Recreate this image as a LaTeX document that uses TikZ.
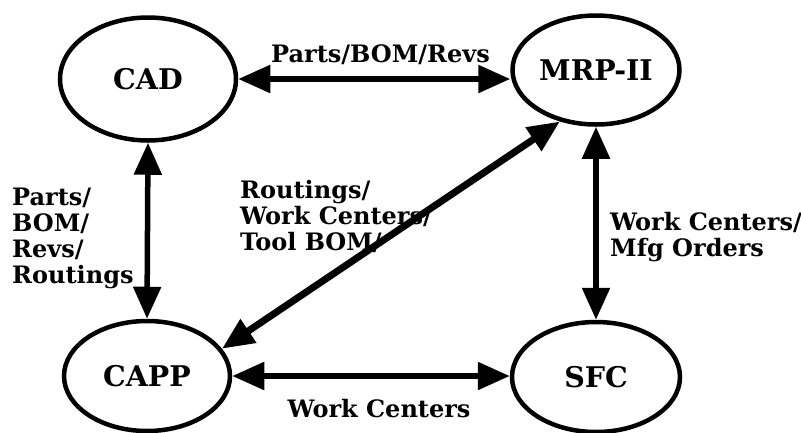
\documentclass[tikz,border=0pt]{standalone}
\usepackage{fontspec}
\setmainfont{DejaVu Serif}
\usetikzlibrary{arrows.meta,shapes.geometric}
\tikzset{
  bigtip/.tip={Triangle[length=32pt,width=27pt]},
  sysnode/.style={ellipse, draw, line width=4.5pt, inner sep=0pt,
    font=\fontsize{28.5}{30}\selectfont\bfseries},
  flow/.style={line width=5.5pt, {bigtip}-{bigtip}},
  flowlabel/.style={font=\fontsize{24}{25.8}\selectfont\bfseries, align=left, inner sep=0pt}
}
\begin{document}
\begin{tikzpicture}[x=1pt,y=-1pt]
\useasboundingbox (0,0) rectangle (801,432);
% the four systems
\node[sysnode, minimum width=176pt, minimum height=123pt] (cad)  at (148,79)  {CAD};
\node[sysnode, minimum width=167pt, minimum height=109pt] (mrp)  at (596,70)  {MRP-II};
\node[sysnode, minimum width=166pt, minimum height=110pt] (capp) at (147,376) {CAPP};
\node[sysnode, minimum width=168pt, minimum height=110pt] (sfc)  at (596,377) {SFC};

% two-way data flows
\draw[flow] (cad.east) -- (mrp.west |- cad.east);
\draw[flow] (cad.south) -- (capp.north);
\draw[flow] (mrp.south) -- (sfc.north);
\draw[flow] (capp.east) -- (sfc.west |- capp.east);
\draw[flow, line width=7pt] (capp.20) -- (mrp.235);

% what each flow carries
\node[flowlabel, anchor=base] (l1) at (380.5,62) {Parts/BOM/Revs};
\node[flowlabel, anchor=north west] (l2) at (12,188) {Parts/\\BOM/\\Revs/\\Routings};
\node[flowlabel, anchor=north west] (l3) at (240,180) {Routings/\\Work Centers/\\Tool BOM/};
\node[flowlabel, anchor=north west] (l4) at (610,212) {Work Centers/\\Mfg Orders};
\node[flowlabel, anchor=base] (l5) at (379,417) {Work Centers};
\end{tikzpicture}
\end{document}
